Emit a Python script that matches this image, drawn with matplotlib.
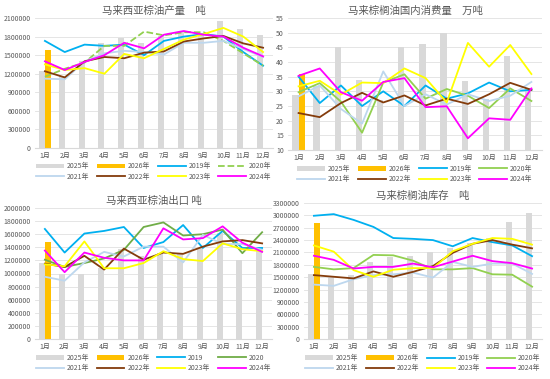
import matplotlib.pyplot as plt
import numpy as np
from matplotlib.ticker import FuncFormatter

plt.rcParams['font.family'] = ['Noto Sans CJK SC', 'DejaVu Sans']

months = ['1月', '2月', '3月', '4月', '5月', '6月', '7月', '8月', '9月', '10月', '11月', '12月']
years = ['2019', '2020', '2021', '2022', '2023', '2024']
line_colors = ['#00B0F0', '#92D050', '#BDD7EE', '#843C0C', '#FFFF00', '#FF00FF']

# 马来西亚棕油产量 (吨)
prod_2025 = [1240000, 1160000, 1400000, 1690000, 1775000, 1690000, 1810000, 1880000, 1820000, 2046000, 1930000, 1830000]
prod_2026 = [1575000]
prod_lines = [
    [1730000, 1550000, 1670000, 1650000, 1670000, 1500000, 1730000, 1800000, 1840000, 1800000, 1550000, 1330000],
    [1150000, 1280000, 1380000, 1650000, 1650000, 1880000, 1820000, 1870000, 1870000, 1730000, 1530000, 1330000],
    [1120000, 1110000, 1400000, 1530000, 1570000, 1550000, 1510000, 1700000, 1700000, 1730000, 1600000, 1470000],
    [1240000, 1140000, 1400000, 1470000, 1450000, 1540000, 1560000, 1720000, 1770000, 1810000, 1690000, 1620000],
    [1350000, 1260000, 1290000, 1200000, 1520000, 1450000, 1600000, 1750000, 1840000, 1940000, 1800000, 1550000],
    [1400000, 1260000, 1390000, 1500000, 1700000, 1610000, 1830000, 1890000, 1830000, 1800000, 1620000, 1480000],
]

# 马来棕榈油国内消费量 (万吨)
cons_2025 = [28.7, 31.9, 45.0, 33.8, 27.0, 45.0, 46.2, 49.9, 33.4, 27.5, 41.9, 31.0]
cons_2026 = [36.0]
cons_lines = [
    [35.0, 26.0, 32.0, 25.0, 30.0, 25.0, 32.0, 27.5, 29.3, 33.0, 30.0, 30.5],
    [29.7, 32.8, 26.5, 15.9, 33.0, 35.8, 27.5, 30.8, 28.5, 24.3, 31.0, 26.7],
    [28.3, 32.0, 24.0, 19.0, 36.8, 25.0, 29.0, 25.5, 29.0, 26.7, 28.5, 33.2],
    [22.6, 21.2, 26.0, 29.5, 26.2, 28.6, 25.2, 27.5, 25.7, 29.0, 32.9, 30.5],
    [31.7, 33.6, 28.9, 33.0, 32.8, 37.8, 34.5, 26.2, 46.5, 38.4, 45.8, 35.9],
    [35.3, 37.8, 29.7, 26.8, 33.2, 34.5, 24.6, 24.9, 14.0, 20.8, 20.3, 31.0],
]

# 马来西亚棕油出口 (吨)
exp_2025 = [1160000, 990000, 990000, 1080000, 1380000, 1260000, 1310000, 1310000, 1390000, 1620000, 1210000, 1340000]
exp_2026 = [1480000]
exp_lines = [
    [1680000, 1320000, 1610000, 1650000, 1710000, 1390000, 1480000, 1740000, 1390000, 1650000, 1390000, 1390000],
    [1210000, 1100000, 1160000, 1230000, 1360000, 1710000, 1780000, 1580000, 1600000, 1670000, 1310000, 1630000],
    [950000, 890000, 1170000, 1330000, 1260000, 1410000, 1410000, 1170000, 1590000, 1450000, 1450000, 1360000],
    [1150000, 1100000, 1270000, 1060000, 1380000, 1210000, 1320000, 1300000, 1410000, 1490000, 1510000, 1460000],
    [1140000, 1110000, 1490000, 1080000, 1080000, 1160000, 1340000, 1220000, 1190000, 1460000, 1370000, 1340000],
    [1350000, 1020000, 1320000, 1240000, 1200000, 1200000, 1690000, 1520000, 1540000, 1720000, 1470000, 1330000],
]

# 马来棕榈油库存 (吨)
stock_2025 = [1573000, 1500000, 1560000, 1860000, 2000000, 2020000, 2110000, 2200000, 2330000, 2450000, 2840000, 3050000]
stock_2026 = [2810000]
stock_lines = [
    [2990000, 3030000, 2890000, 2720000, 2450000, 2430000, 2400000, 2250000, 2450000, 2350000, 2270000, 2010000],
    [1750000, 1690000, 1720000, 2040000, 2030000, 1900000, 1690000, 1690000, 1720000, 1570000, 1560000, 1270000],
    [1320000, 1290000, 1450000, 1550000, 1570000, 1610000, 1490000, 1870000, 1750000, 1830000, 1830000, 1580000],
    [1550000, 1510000, 1470000, 1640000, 1510000, 1630000, 1770000, 2090000, 2310000, 2400000, 2290000, 2200000],
    [2270000, 2120000, 1670000, 1510000, 1680000, 1720000, 1720000, 2130000, 2310000, 2450000, 2430000, 2290000],
    [2020000, 1920000, 1710000, 1750000, 1750000, 1830000, 1740000, 1880000, 2020000, 1890000, 1840000, 1710000],
]

W, H = 550, 379
fig = plt.figure(figsize=(5.5, 3.79), dpi=100)
text_c = '#595959'


def panel(rect, title, bars25, bars26, lines, ylim, step, labels, colors, dash2020=False):
    l, t, r, b = rect
    ax = fig.add_axes([l / W, 1 - b / H, (r - l) / W, (b - t) / H])
    x = np.arange(12)
    handles = []
    handles.append(ax.bar(x - 0.15, bars25, width=0.3, color='#D9D9D9', label=labels[0], zorder=2))
    handles.append(ax.bar(np.arange(len(bars26)) + 0.15, bars26, width=0.3, color='#FFC000', label=labels[1], zorder=2))
    for i, vals in enumerate(lines):
        ls = '--' if (dash2020 and i == 1) else '-'
        h, = ax.plot(x, vals, color=colors[i], lw=1.3, ls=ls, label=labels[i + 2], zorder=3)
        handles.append(h)
    ax.set_xlim(-0.5, 11.5)
    ax.set_ylim(*ylim)
    ax.set_yticks(np.arange(ylim[0], ylim[1] + step / 2, step))
    ax.yaxis.set_major_formatter(FuncFormatter(lambda v, p: '%d' % round(v)))
    ax.set_xticks(x)
    ax.set_xticklabels(months)
    ax.tick_params(length=0, labelsize=5, colors=text_c, pad=3)
    ax.grid(axis='y', color='#E0E0E0', lw=0.6, zorder=0)
    for s in ['top', 'right', 'left']:
        ax.spines[s].set_visible(False)
    ax.spines['bottom'].set_color('#D9D9D9')
    ax.set_title(title, fontsize=7.5, color=text_c, pad=3)
    # row-wise order for a 4-column, 2-row legend
    order = [0, 4, 1, 5, 2, 6, 3, 7]
    ax.legend([handles[k] for k in order], [labels[k] for k in order],
              loc='upper center', bbox_to_anchor=(0.5, -0.09), ncol=4, frameon=False,
              fontsize=5, handlelength=4, columnspacing=1.1, labelcolor=text_c,
              handletextpad=0.4, borderaxespad=0, labelspacing=0.35)
    return ax


lab_cn = ['2025年', '2026年'] + [y + '年' for y in years]
panel((35, 18, 273, 148), '马来西亚棕油产量　吨', prod_2025, prod_2026, prod_lines,
      (0, 2100000), 300000, lab_cn, line_colors, dash2020=True)
panel((288, 18, 542, 150), '马来棕榈油国内消费量　万吨', cons_2025, cons_2026, cons_lines,
      (10, 55), 5, lab_cn, line_colors)
lab_exp = ['2025年', '2026年', '2019', '2020', '2021年', '2022年', '2023年', '2024年']
exp_colors = list(line_colors)
exp_colors[1] = '#70AD47'
panel((35, 208, 272, 339), '马来西亚棕油出口 吨', exp_2025, exp_2026, exp_lines,
      (0, 2000000), 200000, lab_exp, exp_colors)
panel((304, 203, 542, 339), '马来棕榈油库存　吨', stock_2025, stock_2026, stock_lines,
      (0, 3300000), 300000, lab_cn, line_colors)

fig.savefig('out.png', dpi=100)
